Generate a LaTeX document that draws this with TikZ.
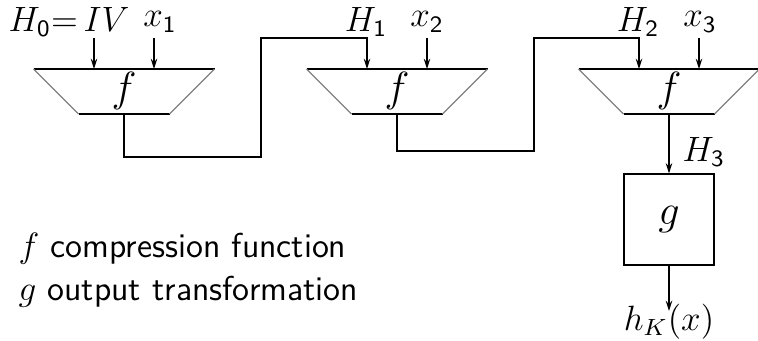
\documentclass[tikz,border=0pt]{standalone}
\usepackage{amsmath}
\usepackage{tikz}
\usetikzlibrary{arrows.meta}
\renewcommand{\familydefault}{\sfdefault}

\begin{document}
\begin{tikzpicture}[x=0.012cm,y=-0.012cm,
    wire/.style={line width=0.4pt},
    feed/.style={wire,-{Stealth[length=3.5pt,width=2.2pt]}},
    side/.style={gray,line width=0.4pt},
    lbl/.style={inner sep=0pt,font=\large},
    legend/.style={inner sep=0pt,anchor=base west,font=\fontsize{11.8}{14}\selectfont}]
  \useasboundingbox (0,0) rectangle (758,340);
  % compression blocks
  \foreach \i/\cx in {1/124,2/397,3/669} {
    \coordinate (f\i-in1) at (\cx-30,69); \coordinate (f\i-in2) at (\cx+30,69);
    \coordinate (f\i-out) at (\cx,114);
    \draw[wire] (\cx-90.5,69) -- (\cx+90.5,69); \draw[wire] (\cx-45.5,114) -- (\cx+45.5,114);
    \draw[side] (\cx+90.5,69) -- (\cx+45.5,114); \draw[side] (\cx-45.5,114) -- (\cx-90.5,69);
    \node (f\i) at (\cx,91) {\Large$f$};
    \coordinate (x\i-top) at (\cx+30,38);
    \draw[feed] (x\i-top) -- (f\i-in2);
  }
  % input labels
  \node[lbl] (H0) at (69,22) {$H_{\mathsf{0}}{=}\,IV$};
  \node[lbl] (x1) at (160,22) {$x_{\mathsf{1}}$};
  \node[lbl] (H1) at (366,22) {$H_{\mathsf{1}}$};
  \node[lbl] (x2) at (427,22) {$x_{\mathsf{2}}$};
  \node[lbl] (H2) at (638,22) {$H_{\mathsf{2}}$};
  \node[lbl] (x3) at (700,22) {$x_{\mathsf{3}}$};
  \coordinate (H0-top) at (94,38);
  \draw[feed] (H0-top) -- (f1-in1);
  % chaining values
  \coordinate (loop1-a) at (261,157); \coordinate (loop1-b) at (261,38);
  \coordinate (loop2-a) at (534,151); \coordinate (loop2-b) at (534,38);
  \draw[feed] (f1-out) |- (loop1-a) -- (loop1-b) -| (f2-in1);
  \draw[feed] (f2-out) |- (loop2-a) -- (loop2-b) -| (f3-in1);
  % output transformation
  \node[draw,wire,minimum width=1.08cm,minimum height=1.09cm] (g) at (669,219.5) {\Large$g$};
  \draw[feed] (f3-out) -- (g.north);
  \node[lbl,anchor=west] (H3) at (682,152) {$H_{\mathsf{3}}$};
  \coordinate (hK-top) at (669,311);
  \node[lbl,anchor=base] (hK) at (669,330) {$h_K(x)$};
  \draw[feed] (g.south) -- (hK-top);
  % legend
  \node[legend] (leg-f) at (18,257) {$f$ compression function};
  \node[legend] (leg-g) at (18,300) {$g$ output transformation};
\end{tikzpicture}
\end{document}
